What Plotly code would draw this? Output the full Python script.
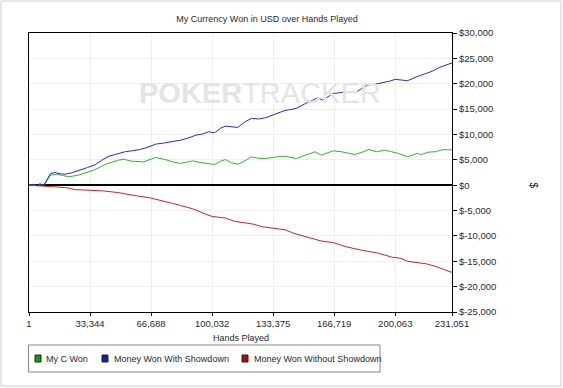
import plotly.graph_objects as go

# ---- data ----
blue_hands = [1, 2500, 4500, 6000, 7500, 8500, 11700, 14000, 17000, 20100, 23000, 25200, 28500, 32000,
              36000, 40000, 43800, 48000, 52300, 56500, 60800, 65000, 69200, 73500, 77700, 82800, 87000,
              91200, 95000, 98000, 101400, 104500, 107300, 110500, 114000, 115700, 118500, 121600, 125500,
              129200, 134000, 139300, 142500, 146000, 151100, 154500, 157900, 160400, 163500, 166300,
              169500, 173000, 178100, 181500, 184900, 189000, 193300, 197000, 200000, 203500, 206800,
              211900, 214400, 217300, 220500, 224000, 227500, 231051]
blue_vals = [0, 150, -100, 300, 0, 200, 2300, 2500, 2250, 2170, 2400, 2630, 3000, 3490,
             4000, 5000, 5720, 6200, 6580, 6800, 7040, 7500, 8090, 8300, 8550, 8880, 9300,
             9870, 10100, 10530, 10330, 11200, 11650, 11500, 11380, 11840, 12600, 13160, 13050,
             13290, 13900, 14670, 14900, 15130, 16120, 16600, 17240, 16780, 17500, 18100,
             18200, 18420, 18230, 18900, 19740, 19900, 20200, 20500, 20860, 20700, 20600,
             21390, 21700, 22100, 22500, 23200, 23700, 24100]

green_hands = [1, 2500, 4500, 6000, 7500, 8500, 11700, 15000, 18500, 21800, 26900, 31000, 35400, 42100,
               48900, 52000, 55700, 62500, 66000, 69200, 74300, 78500, 82800, 86000, 89500, 93000, 96300,
               101400, 104500, 107300, 110600, 114000, 117000, 121600, 125500, 129200, 134000, 139300,
               146000, 150000, 156200, 159600, 163000, 166300, 170500, 174000, 178100, 182000, 185700,
               189900, 194200, 198000, 201800, 206800, 211900, 214400, 218000, 222000, 226000, 231051]
green_vals = [0, 100, -150, 250, -50, 150, 1970, 2170, 1900, 1650, 1970, 2500, 2960, 4150,
              4940, 5100, 4740, 4600, 5000, 5460, 5070, 4600, 4280, 4600, 4800, 4500, 4280,
              4080, 4700, 5070, 4410, 4150, 4600, 5590, 5300, 5260, 5500, 5720,
              5260, 5800, 6580, 5920, 6400, 6780, 6600, 6300, 6050, 6500, 7040,
              6580, 6910, 6600, 6250, 5590, 6250, 6050, 6500, 6600, 7000, 6950]

red_hands = [1, 8300, 15000, 20100, 25200, 32000, 40500, 48900, 54000, 59100, 65800, 70000, 74300,
             78500, 82800, 89500, 96300, 99700, 103000, 107300, 112300, 117000, 122400, 127500,
             134200, 140100, 144400, 148500, 152800, 159600, 166300, 173100, 181500, 189900,
             198400, 203000, 206800, 213600, 217000, 222000, 226000, 231051]
red_vals = [0, -200, -330, -470, -870, -1000, -1130, -1470, -1870, -2130, -2470, -2800, -3200,
            -3600, -4000, -4670, -5670, -6130, -6300, -6470, -7130, -7400, -7670, -8200,
            -8470, -8800, -9470, -9900, -10330, -11000, -11330, -12130, -12800, -13330,
            -14200, -14400, -15000, -15330, -15500, -16000, -16500, -17200]

x_ticks = [1, 33344, 66688, 100032, 133375, 166719, 200063, 231051]
x_tick_labels = ["1", "33,344", "66,688", "100,032", "133,375", "166,719", "200,063", "231,051"]
y_ticks = [30000, 25000, 20000, 15000, 10000, 5000, 0, -5000, -10000, -15000, -20000, -25000]
y_tick_labels = ["$30,000", "$25,000", "$20,000", "$15,000", "$10,000", "$5,000", "$0",
                 "$-5,000", "$-10,000", "$-15,000", "$-20,000", "$-25,000"]

series_names = ["My C Won", "Money Won With Showdown", "Money Won Without Showdown"]
line_colors = ["#2db52d", "#2a2acc", "#cc2222"]
swatch_colors = ["#119911", "#112299", "#aa1111"]

fig = go.Figure()
for hx, hy, col, nm in [(green_hands, green_vals, line_colors[0], series_names[0]),
                        (blue_hands, blue_vals, line_colors[1], series_names[1]),
                        (red_hands, red_vals, line_colors[2], series_names[2])]:
    fig.add_trace(go.Scatter(x=hx, y=hy, mode="lines", line=dict(color=col, width=1),
                             name=nm, showlegend=False, hoverinfo="skip"))

font_main = "Liberation Sans, Arial, sans-serif"
txt_col = "#2a2a2a"
fs = 9

# pixel -> paper helpers for the fixed layout
L, R, T, B = 29, 452, 33, 312
def px(x):
    return (x - L) / (R - L)
def py(y):
    return (B - y) / (B - T)

shapes = [
    # outer light border
    dict(type="rect", xref="paper", yref="paper", x0=px(1), x1=px(561), y0=py(386), y1=py(1),
         line=dict(color="#cccccc", width=1), layer="below"),
    # legend box
    dict(type="rect", xref="paper", yref="paper", x0=px(28.5), x1=px(380), y0=py(372), y1=py(345),
         line=dict(color="#888888", width=1), fillcolor="white"),
]
annotations = [
    dict(text="<b>POKER</b>TRACKER", xref="paper", yref="paper", x=px(260), y=py(75),
         showarrow=False, font=dict(family=font_main, size=29, color="#e4e4e4")),
    dict(text="$", xref="paper", yref="paper", x=px(541), y=py(185), showarrow=False,
         textangle=90, font=dict(size=10, color=txt_col)),
    dict(text="Hands Played", xref="paper", yref="paper", x=px(240.5), y=py(337.5), showarrow=False,
         yanchor="middle", font=dict(size=fs, color=txt_col)),
]
sw_left = [35, 102, 242]
tx_left = [44, 112, 252]
for nm, col, sx, tx in zip(series_names, swatch_colors, sw_left, tx_left):
    shapes.append(dict(type="rect", xref="paper", yref="paper", x0=px(sx), x1=px(sx + 6),
                       y0=py(362), y1=py(355), fillcolor=col, line=dict(color="#222222", width=1)))
    annotations.append(dict(text=nm, xref="paper", yref="paper", x=px(tx), y=py(358.5),
                            xanchor="left", yanchor="middle", showarrow=False,
                            font=dict(size=fs, color=txt_col)))

fig.update_layout(
    width=563, height=388,
    margin=dict(l=L, r=563 - R, t=T, b=388 - B, autoexpand=False),
    paper_bgcolor="white", plot_bgcolor="white",
    font=dict(family=font_main, size=fs, color=txt_col),
    title=dict(text="My Currency Won in USD over Hands Played", xref="container", x=267 / 563,
               y=1 - 19 / 388, yanchor="middle", xanchor="center",
               font=dict(size=fs, color=txt_col)),
    showlegend=False,
    xaxis=dict(range=[1, 231051], tickvals=x_ticks, ticktext=x_tick_labels,
               showgrid=True, gridcolor="#eeeeee", gridwidth=1,
               showline=True, linecolor="black", linewidth=1, mirror=True,
               ticks="outside", ticklen=3, tickcolor="black", zeroline=False,
               tickfont=dict(size=9.5), automargin=False),
    yaxis=dict(range=[-25000, 30000], side="right", tickvals=y_ticks, ticktext=y_tick_labels,
               showgrid=True, gridcolor="#eeeeee", gridwidth=1,
               showline=True, linecolor="black", linewidth=1, mirror=True,
               ticks="outside", ticklen=4, tickcolor="black",
               zeroline=True, zerolinecolor="black", zerolinewidth=1.5,
               tickfont=dict(size=9.5), automargin=False),
    shapes=shapes,
    annotations=annotations,
)

fig.write_html("out.html", config={"displayModeBar": False},
               post_script="document.body.style.margin='0';document.body.style.padding='0';"
                           "document.documentElement.style.overflow='hidden';")
